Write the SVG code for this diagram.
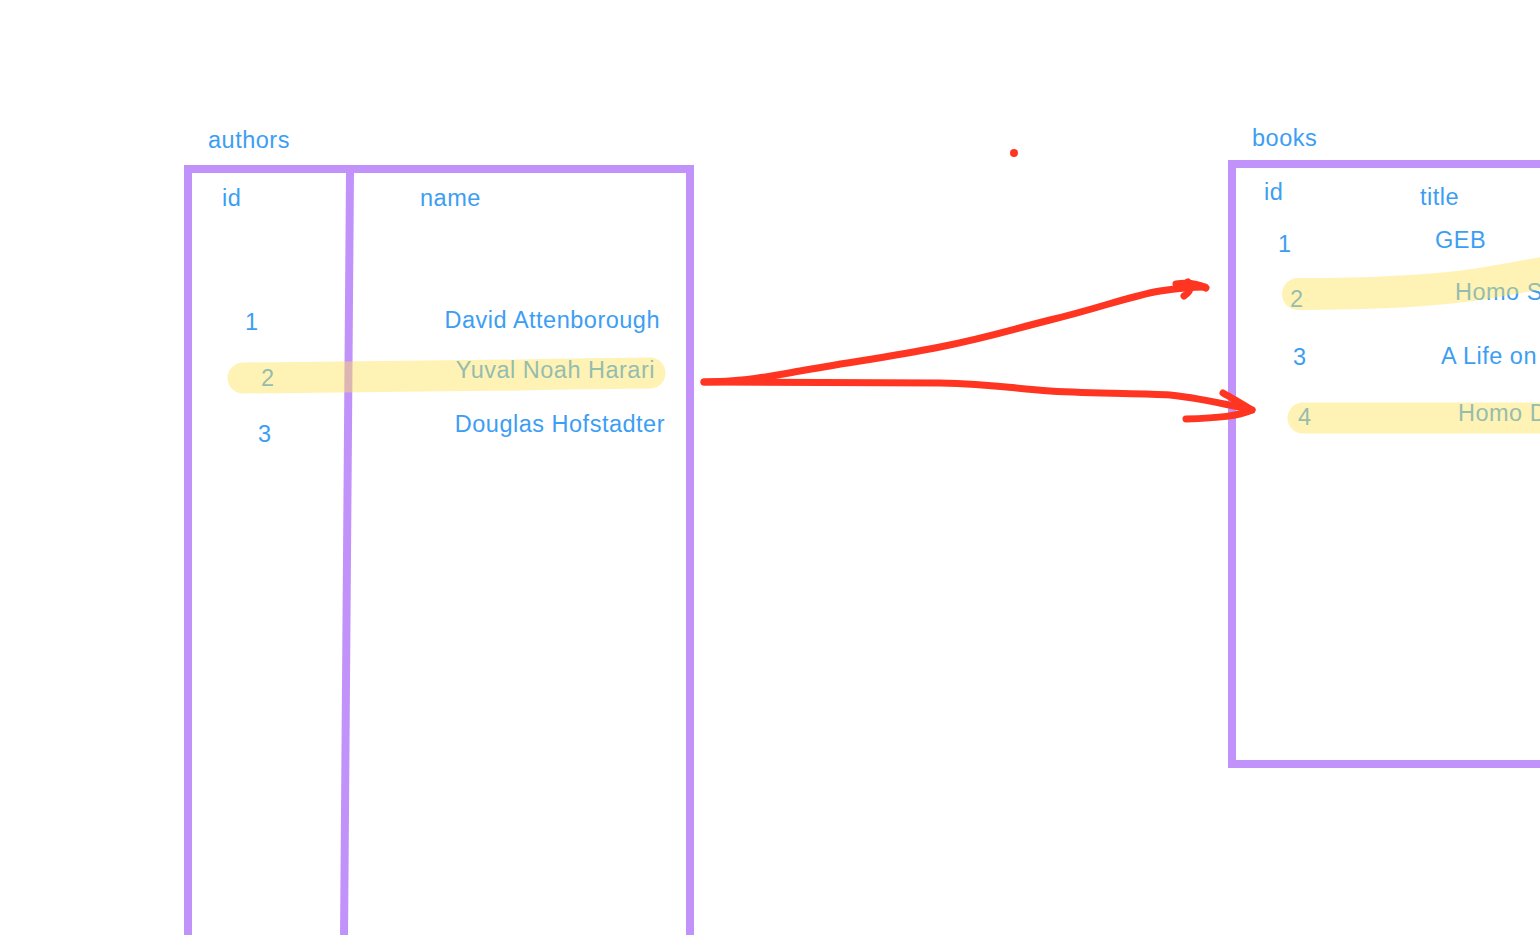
<svg xmlns="http://www.w3.org/2000/svg" width="1540" height="935" viewBox="0 0 1540 935">
<style>
.t{font-family:"Liberation Sans",Arial,sans-serif;font-size:23.5px;letter-spacing:0.5px;fill:#3c9ef3}
.e{text-anchor:end}
.box{fill:none;stroke:#c292fb;stroke-width:8}
.hl{fill:none;stroke:#ffe25a;stroke-opacity:0.45;stroke-linecap:round}
.arr{fill:none;stroke:#ff3522;stroke-width:7;stroke-linecap:round;stroke-linejoin:round}
</style>
<rect width="1540" height="935" fill="#ffffff"/>
<g id="authors">
<path class="box" d="M188,940 V169 H690 V940"/>
<path class="box" d="M350,173 L344,940"/>
<text class="t" x="208" y="148">authors</text>
<text class="t" x="222" y="206">id</text>
<text class="t" x="420" y="206">name</text>
<text class="t" x="245" y="330">1</text>
<text class="t e" x="660" y="328">David Attenborough</text>
<text class="t" x="261" y="386">2</text>
<text class="t e" x="655" y="378">Yuval Noah Harari</text>
<text class="t" x="258" y="442">3</text>
<text class="t e" x="665" y="432">Douglas Hofstadter</text>
<path class="hl" stroke-width="31" d="M243,378 C350,377 450,376 520,375 C580,374 620,373 650,373"/>
</g>
<g id="books">
<path class="box" d="M1550,164 H1232 V764 H1550"/>
<text class="t" x="1252" y="146">books</text>
<text class="t" x="1264" y="200">id</text>
<text class="t" x="1420" y="205">title</text>
<text class="t" x="1278" y="252">1</text>
<text class="t" x="1435" y="248">GEB</text>
<text class="t" x="1290" y="307">2</text>
<text class="t" x="1455" y="300">Homo S</text>
<text class="t" x="1293" y="365">3</text>
<text class="t" x="1441" y="364">A Life on</text>
<text class="t" x="1298" y="425">4</text>
<text class="t" x="1458" y="421">Homo D</text>
<path class="hl" stroke-width="32" d="M1298,294 C1380,294 1440,290 1480,284 C1510,279 1530,275 1560,270"/>
<path class="hl" stroke-width="31" d="M1303,418 H1560"/>
</g>
<g id="connectors">
<path class="arr" d="M704,382 C740,382 760,378 800,371 C850,362 890,357 940,347 C990,337 1010,330 1050,320 C1100,308 1130,296 1160,291 C1180,288 1195,287 1205,287"/>
<path class="arr" d="M1176,284 C1190,282 1200,285 1206,288 M1188,282 C1192,288 1190,292 1184,296"/>
<path class="arr" d="M704,382 L940,383 C990,384 1010,388 1050,391 C1100,394 1140,393 1170,395 C1200,398 1215,402 1252,410"/>
<path class="arr" d="M1223,393 C1232,398 1238,402 1252,410 C1238,416 1220,418 1186,419"/>
<circle cx="1014" cy="153" r="4" fill="#ff3522"/>
</g>
</svg>
